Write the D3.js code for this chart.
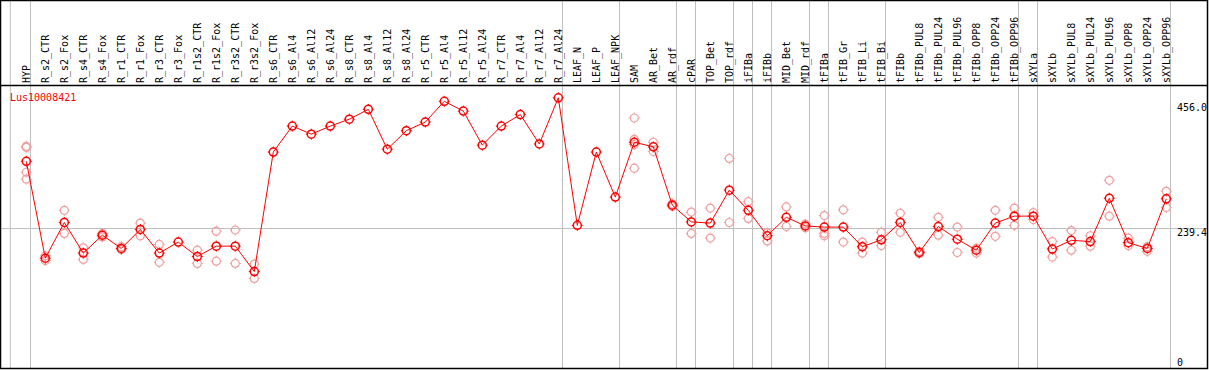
<!DOCTYPE html>
<html>
<head>
<meta charset="utf-8">
<script src="https://cdn.jsdelivr.net/npm/d3@7"></script>
<style>
 body { margin: 0; background: #fff; }
 text { font-family: "DejaVu Sans Mono", monospace; font-size: 10px; }
</style>
</head>
<body>
<svg></svg>
<script>
// размеры
const width = 1209;
const height = 370;

// категории (образцы)
const categories = ["HYP",
 "R_s2_CTR", "R_s2_Fox", "R_s4_CTR", "R_s4_Fox", "R_r1_CTR", "R_r1_Fox", "R_r3_CTR", "R_r3_Fox",
 "R_r1s2_CTR", "R_r1s2_Fox", "R_r3s2_CTR", "R_r3s2_Fox", "R_s6_CTR", "R_s6_Al4", "R_s6_Al12", "R_s6_Al24",
 "R_s8_CTR", "R_s8_Al4", "R_s8_Al12", "R_s8_Al24", "R_r5_CTR", "R_r5_Al4", "R_r5_Al12", "R_r5_Al24",
 "R_r7_CTR", "R_r7_Al4", "R_r7_Al12", "R_r7_Al24",
 "LEAF_N", "LEAF_P", "LEAF_NPK",
 "SAM", "AR_Bet", "AR_rdf",
 "cPAR",
 "TOP_Bet", "TOP_rdf",
 "iFIBa",
 "iFIBb",
 "MID_Bet", "MID_rdf",
 "tFIBa",
 "tFIB_Gr", "tFIB_Li", "tFIB_Bi",
 "tFIBb", "tFIBb_PUL8", "tFIBb_PUL24", "tFIBb_PUL96", "tFIBb_OPP8", "tFIBb_OPP24", "tFIBb_OPP96",
 "sXYLa",
 "sXYLb", "sXYLb_PUL8", "sXYLb_PUL24", "sXYLb_PUL96", "sXYLb_OPP8", "sXYLb_OPP24", "sXYLb_OPP96"];

// последний образец каждой группы - после него серая линия
const groupEnds = ["HYP", "R_r7_Al24", "LEAF_NPK", "AR_rdf", "cPAR", "TOP_rdf", "iFIBa", "iFIBb",
 "MID_rdf", "tFIBa", "tFIB_Bi", "tFIBb_OPP96", "sXYLa", "sXYLb_OPP96"];

// средние значения
const means = [355,
 187, 249, 196, 227, 204, 237, 196, 215, 190, 208, 208, 164,
 371, 416, 402, 416, 428, 445, 376, 408, 423, 459, 442, 383, 416, 436, 385, 465,
 244, 371, 293,
 388, 380, 279,
 250,
 248, 305,
 270,
 226,
 258, 243,
 241,
 241, 207, 219,
 249, 197, 242, 220, 201, 248, 260,
 260,
 203, 218, 216, 291, 214, 204, 290];

// повторности
const replicates = [[381, 379, 336, 324],
 [191, 183], [270, 230], [205, 185], [230, 224], [207, 202], [248, 226], [211, 180], [],
 [201, 178], [234, 182], [236, 178], [177, 152],
 [], [], [], [], [], [], [], [], [], [], [], [], [], [], [], [],
 [], [], [],
 [430, 393, 384, 343], [388, 372], [281, 277],
 [267, 230],
 [274, 222], [360, 249],
 [285, 256],
 [231, 217],
 [276, 242], [246, 240],
 [261, 230, 226],
 [271, 215], [215, 196], [232, 209],
 [265, 232], [199, 195], [258, 227], [241, 197], [204, 196], [270, 225], [274, 244],
 [266, 254],
 [216, 189], [235, 201], [226, 208], [322, 260], [222, 209], [207, 199], [303, 275]];

// метки правой оси
const yTicks = [0, 239.4, 456.0];
const title = "Lus10008421";

let svg = d3.select("svg")
 .attr("width", width)
 .attr("height", height);

const x = d3.scalePoint()
 .domain(categories)
 .range([26.3, 1166.3]);

const y = d3.scaleLinear()
 .domain([0, 456])
 .range([366.2, 103]);

const gray = "#c0c0c0";
const pink = "#f0a0a0";

// серые вертикальные разделители
svg.append("line")
 .attr("x1", x(categories[0]) - 16).attr("x2", x(categories[0]) - 16)
 .attr("y1", 0).attr("y2", 368)
 .style("stroke", gray);
svg.selectAll(".sep")
 .data(groupEnds)
 .enter().append("line")
 .attr("x1", d => Math.round(x(d) + 4) + 0.5)
 .attr("x2", d => Math.round(x(d) + 4) + 0.5)
 .attr("y1", 0).attr("y2", 368)
 .style("stroke", gray);

// горизонтальная линия сетки
svg.append("line")
 .attr("x1", 0).attr("x2", 1207)
 .attr("y1", Math.round(y(239.4)) + 0.5).attr("y2", Math.round(y(239.4)) + 0.5)
 .style("stroke", gray);

// подписи образцов
svg.selectAll(".lab")
 .data(categories)
 .enter().append("text")
 .attr("transform", d => `translate(${x(d) + 3.5}, 83) rotate(-90)`)
 .text(d => d);

// подписи оси
svg.selectAll(".tick")
 .data(yTicks)
 .enter().append("text")
 .attr("x", 1177)
 .attr("y", d => Math.min(y(d) + 8, 366))
 .text(d => d === 0 ? "0" : d.toFixed(1));

// рамка
svg.append("rect")
 .attr("x", 0.5).attr("y", 0.5)
 .attr("width", 1207).attr("height", 368)
 .style("fill", "none").style("stroke", "black").style("stroke-width", 1.5);
svg.append("line")
 .attr("x1", 0).attr("x2", 1207)
 .attr("y1", 85.5).attr("y2", 85.5)
 .style("stroke", "black").style("stroke-width", 1.5);

svg.append("text")
 .attr("x", 10).attr("y", 101)
 .style("fill", "red")
 .text(title);

// маркер: кружок с маленькими засечками
function marker(g, color, sw) {
 g.append("circle").attr("r", 4)
  .style("fill", "none").style("stroke", color).style("stroke-width", sw);
 [[0, -4, 0, -5.5], [0, 4, 0, 5.5], [-4, 0, -5.5, 0], [4, 0, 5.5, 0]].forEach(s => {
  g.append("line").attr("x1", s[0]).attr("y1", s[1]).attr("x2", s[2]).attr("y2", s[3])
   .style("stroke", color).style("stroke-width", 1);
 });
}

// повторности
let reps = [];
categories.forEach((c, i) => replicates[i].forEach(v => reps.push({c: c, v: v})));
svg.selectAll(".rep")
 .data(reps)
 .enter().append("g")
 .attr("transform", d => `translate(${x(d.c)}, ${y(d.v)})`)
 .each(function() { marker(d3.select(this), pink, 1.2); });

// линия средних
const line = d3.line()
 .x((d, i) => x(categories[i]))
 .y(d => y(d));
svg.append("path")
 .attr("d", line(means))
 .style("fill", "none").style("stroke", "red").style("stroke-width", 1);

svg.selectAll(".pt")
 .data(means)
 .enter().append("g")
 .attr("transform", (d, i) => `translate(${x(categories[i])}, ${y(d)})`)
 .each(function() { marker(d3.select(this), "red", 1.5); });
</script>
</body>
</html>
